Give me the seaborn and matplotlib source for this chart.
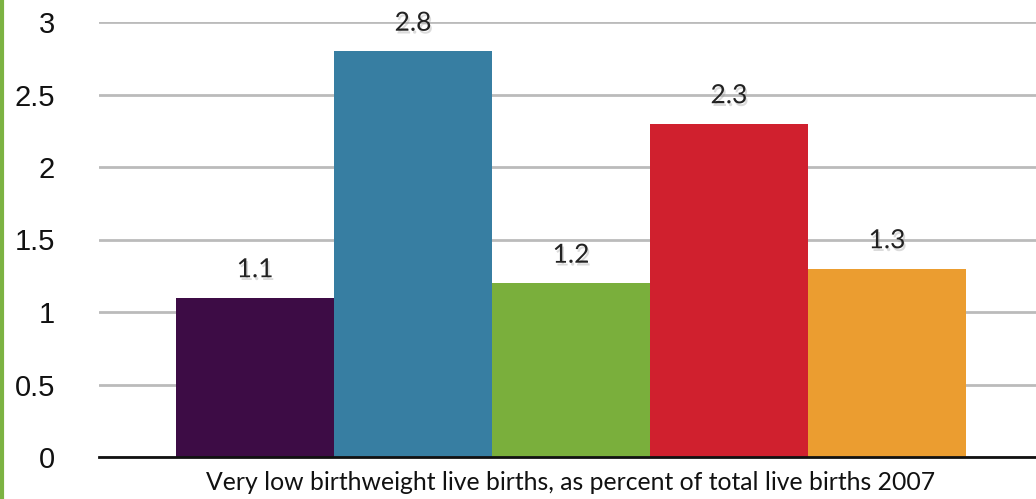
import matplotlib
matplotlib.use("Agg")
import matplotlib.pyplot as plt
import matplotlib.patheffects as pe
from matplotlib.lines import Line2D
import seaborn as sns
import pandas as pd

category = "Very low birthweight live births, as percent of total live births 2007"
groups = ["Group 1", "Group 2", "Group 3", "Group 4", "Group 5"]
values = [1.1, 2.8, 1.2, 2.3, 1.3]
colors = ["#3d0c45", "#377ea2", "#7aaf3c", "#d0202e", "#eb9d30"]
y_ticks = [0, 0.5, 1, 1.5, 2, 2.5, 3]
y_tick_labels = ["0", "0.5", "1", "1.5", "2", "2.5", "3"]

df = pd.DataFrame({"cat": [category] * len(groups), "group": groups, "value": values})

sns.set_theme(style="white")
plt.rcParams["font.family"] = ["Liberation Sans", "DejaVu Sans"]

fig = plt.figure(figsize=(10.36, 4.99), dpi=100)
ax = fig.add_axes([99 / 1036, 42 / 499, 1 - 99 / 1036, (457 - 22) / 499])

sns.barplot(data=df, x="cat", y="value", hue="group", palette=colors,
            width=1.0, dodge=True, saturation=1, legend=False, ax=ax,
            linewidth=0, errorbar=None)

ax.set_ylim(0, 3)
ax.set_xlim(-0.5975, 0.5886)
ax.set_yticks(y_ticks)
ax.set_yticklabels(y_tick_labels, fontsize=21, color="#111111")
ax.tick_params(axis="y", length=0, pad=31.5)
ax.tick_params(axis="x", length=0, pad=10)
ax.set_xticks([0])
ax.set_xticklabels([category], fontsize=17.8, family=["Lato", "DejaVu Sans"], color="#111111")
ax.set_xlabel("")
ax.set_ylabel("")
ax.yaxis.grid(True, color="#bbbbbb", linewidth=2)
ax.set_axisbelow(True)
for s in ["top", "right", "left"]:
    ax.spines[s].set_visible(False)
ax.spines["bottom"].set_color("#111111")
ax.spines["bottom"].set_linewidth(2)

for container in ax.containers:
    for bar in container:
        h = bar.get_height()
        t = ax.annotate(f"{h:.1f}", (bar.get_x() + bar.get_width() / 2, h),
                        xytext=(0, 11), textcoords="offset points",
                        ha="center", va="bottom", fontsize=19,
                        family=["Lato", "DejaVu Sans"], color="#222222")
        t.set_path_effects([pe.SimplePatchShadow(offset=(1.2, -2), shadow_rgbFace="#999999", alpha=0.35),
                            pe.Normal()])

fig.add_artist(Line2D([1.5 / 1036, 1.5 / 1036], [0, 1], color="#7cb342",
                      linewidth=3, transform=fig.transFigure))

fig.savefig("out.png", dpi=100)
